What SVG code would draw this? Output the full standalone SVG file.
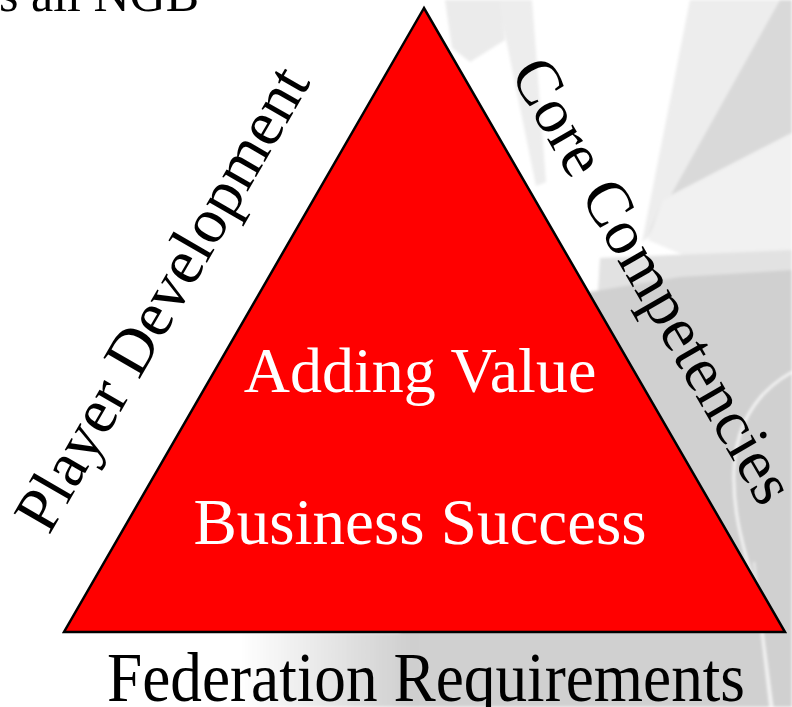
<svg xmlns="http://www.w3.org/2000/svg" width="792" height="707" viewBox="0 0 792 707">
  <style>
    .serif { font-family: "Liberation Serif", "Times New Roman", serif; }
    .dark { fill: #000000; }
    .light { fill: #ffffff; }
  </style>
  <defs>
    <linearGradient id="floorFade" gradientUnits="userSpaceOnUse" x1="240" y1="0" x2="410" y2="0">
      <stop offset="0" stop-color="#ffffff"/>
      <stop offset="1" stop-color="#cfcfcf"/>
    </linearGradient>
    <filter id="soft" x="-5%" y="-5%" width="110%" height="110%">
      <feGaussianBlur stdDeviation="1.5"/>
    </filter>
  </defs>

  <!-- page -->
  <rect x="0" y="0" width="792" height="707" fill="#ffffff"/>

  <!-- faded plant photo behind the triangle -->
  <g id="backdrop" filter="url(#soft)">
    <polygon points="690,0 782,0 650,236 642,242" fill="#ededed"/>
    <polygon points="780,0 792,0 792,133 662,200 648,236" fill="#d9d9d9"/>
    <polygon points="792,133 792,250 700,262 648,240 662,200" fill="#f1f1f1"/>
    <polygon points="498,0 532,0 546,182 536,186" fill="#ededed"/>
    <polygon points="445,0 500,0 505,40 470,62 452,48" fill="#ebebeb"/>
    <polygon points="600,258 792,250 792,272 680,278 598,292" fill="#e2e2e2"/>
    <polygon points="589,292 680,277 792,270 792,707 400,707 400,632" fill="#d0d0d0"/>
    <rect x="240" y="633" width="180" height="74" fill="url(#floorFade)"/>
    <path d="M792,372 C760,390 736,420 734,470 C732,520 748,560 758,600 L772,707" fill="none" stroke="#ffffff" stroke-width="2.5" opacity="0.85"/>
    <path d="M754,562 L770,707" fill="none" stroke="#f4f4f4" stroke-width="2" opacity="0.8"/>
  </g>

  <!-- cut-off heading line -->
  <text class="serif dark" x="-1" y="11" font-size="50">s all NGB</text>

  <!-- central triangle -->
  <g id="triangle">
    <polygon points="424,8 64,632 785,632" fill="#ff0000" stroke="#000000" stroke-width="2.5" stroke-linejoin="miter"/>
    <text class="serif light" x="420" y="392" font-size="64" text-anchor="middle">Adding Value</text>
    <text class="serif light" x="420" y="544" font-size="65" text-anchor="middle">Business Success</text>
  </g>

  <!-- side labels -->
  <g id="label-player">
    <text class="serif dark" x="180" y="309" font-size="64" text-anchor="middle" transform="rotate(-60 180 309)">Player Development</text>
  </g>
  <g id="label-core">
    <text class="serif dark" x="635" y="291" font-size="64" text-anchor="middle" transform="rotate(60 635 291)">Core Competencies</text>
  </g>
  <g id="label-federation">
    <text class="serif dark" x="426" y="701" font-size="70" text-anchor="middle" textLength="638" lengthAdjust="spacingAndGlyphs">Federation Requirements</text>
  </g>
</svg>
